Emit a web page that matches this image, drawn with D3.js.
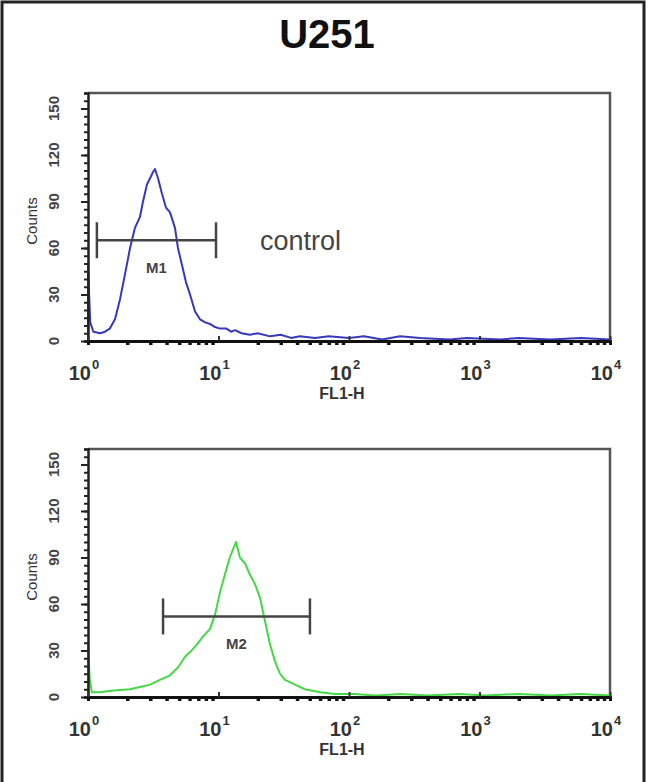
<!DOCTYPE html>
<html>
<head>
<meta charset="utf-8">
<script src="https://cdn.jsdelivr.net/npm/d3@7"></script>
<style>
  html, body { margin: 0; padding: 0; background: #fff; }
  svg { display: block; }
  text { font-family: "Liberation Sans", Arial, sans-serif; }
</style>
</head>
<body>
<svg id="chart" width="650" height="782"></svg>
<script>
// ---------- data ----------
const title = "U251";
const xTickExponents = [0, 1, 2, 3, 4];
const yTickValues = [0, 30, 60, 90, 120, 150];

// control histogram (FL1-H value, counts)
const controlFL1 = [1.0, 1.0, 1.02, 1.04, 1.1, 1.24, 1.35, 1.47, 1.61, 1.76, 1.92, 2.10, 2.29, 2.50, 2.64, 2.83, 2.99, 3.15, 3.26, 3.44, 3.69, 3.96, 4.25, 4.64, 4.89, 5.25, 5.63, 6.05, 6.61, 7.21, 7.9, 8.61, 9.4, 10.3, 11.5, 12.5, 13.4, 15, 17.4, 20, 24.8, 30, 36, 42, 55, 70, 100, 130, 180, 246, 350, 590, 800, 1440, 2000, 3470, 6000, 10000, 10000];
const controlCounts = [0, 50, 30, 12, 6, 5, 6, 8, 14, 27, 43, 60, 73, 80, 90, 101, 105, 109, 111, 105, 95, 86, 83, 73, 60, 49, 38, 30, 19, 14, 12, 11, 9, 8, 8, 6, 7, 5, 4, 5, 3, 4, 2, 3, 2, 3, 2, 3, 1, 3, 2, 1, 2, 1, 2, 1, 2, 1, 0];

// sample histogram
const sampleFL1 = [1.0, 1.0, 1.03, 1.07, 1.24, 1.5, 1.76, 2.1, 2.50, 2.99, 3.56, 4.25, 4.89, 5.54, 6.05, 6.84, 7.60, 8.61, 9.40, 10.3, 11.2, 12.2, 13.6, 14.6, 16.0, 17.4, 19.0, 20.8, 22.7, 24.8, 27.1, 29.6, 32.3, 38.6, 46.0, 60.0, 78.1, 110, 160, 250, 400, 700, 1100, 2000, 3500, 6000, 10000, 10000];
const sampleCounts = [0, 33, 12, 3, 3, 4, 4.5, 5, 6.5, 8, 11, 14, 19, 26, 29, 34, 39, 44, 53, 68, 79, 90, 100, 90, 86, 79, 73, 64, 49, 34, 23, 15, 11, 8, 5, 3, 2, 2, 1, 2, 1, 2, 1, 2, 1, 2, 1, 0];

// markers
const markerNames = ["M1", "M2"];
const markerStart = [1.17, 3.76];
const markerEnd = [9.57, 50.2];
const markerCount = [65, 52];

const panelLabels = ["control", ""];

// ---------- layout ----------
const svg = d3.select("#chart");
const W = 650, H = 782;
const plotLeft = 88, plotRight = 610;
const panels = [
  { top: 93, bottom: 341, fl: controlFL1, cnt: controlCounts, color: "#3838bb" },
  { top: 449, bottom: 697, fl: sampleFL1, cnt: sampleCounts, color: "#44d844" }
];

// outer frame (left, top, right)
svg.append("path")
  .attr("d", `M2,${H} L2,2 L644,2 L644,${H}`)
  .attr("fill", "none").attr("stroke", "#222").attr("stroke-width", 3);

svg.append("text")
  .attr("x", 327).attr("y", 48)
  .attr("text-anchor", "middle")
  .attr("font-size", 40).attr("font-weight", "bold").attr("fill", "#111")
  .text(title);

panels.forEach((p, i) => {
  const x = d3.scaleLog().domain([1, 10000]).range([plotLeft, plotRight]);
  const y = d3.scaleLinear().domain([0, 160]).range([p.bottom, p.top]);
  const g = svg.append("g");

  // box frame (top and right)
  g.append("path")
    .attr("d", `M${plotLeft},${p.top} L${plotRight},${p.top} L${plotRight},${p.bottom}`)
    .attr("fill", "none").attr("stroke", "#555").attr("stroke-width", 2.5);

  // histogram line
  const pts = p.fl.map((v, k) => [v, p.cnt[k]]);
  g.append("path")
    .datum(pts)
    .attr("d", d3.line().x(d => x(d[0])).y(d => y(d[1])))
    .attr("fill", "none").attr("stroke", p.color).attr("stroke-width", 2)
    .attr("stroke-linejoin", "round");

  // y axis
  const yMinor = d3.range(0, 161, 5);
  const yAxisMinor = d3.axisLeft(y).tickValues(yMinor).tickSize(4).tickFormat("");
  const ya = g.append("g").attr("transform", `translate(${plotLeft},0)`).call(yAxisMinor);
  ya.select(".domain").attr("stroke", "#222").attr("stroke-width", 2.5);
  ya.selectAll(".tick line").attr("stroke", "#222").attr("stroke-width", 2);
  const yAxisMajor = d3.axisLeft(y).tickValues(yTickValues).tickSize(7).tickFormat("");
  const yb = g.append("g").attr("transform", `translate(${plotLeft},0)`).call(yAxisMajor);
  yb.select(".domain").remove();
  yb.selectAll(".tick line").attr("stroke", "#222").attr("stroke-width", 2);

  yTickValues.forEach(v => {
    g.append("text")
      .attr("transform", `translate(${59},${y(v)}) rotate(-90)`)
      .attr("text-anchor", "middle")
      .attr("font-size", 15).attr("font-weight", "bold").attr("fill", "#444")
      .text(v);
  });

  g.append("text")
    .attr("transform", `translate(${37},${(p.top + p.bottom) / 2 + 4}) rotate(-90)`)
    .attr("text-anchor", "middle")
    .attr("font-size", 15).attr("fill", "#333")
    .text("Counts");

  // x axis
  const xMinorVals = [];
  for (let e = 0; e < 4; e++) for (let m = 2; m <= 9; m++) xMinorVals.push(m * Math.pow(10, e));
  const xAxisMinor = d3.axisBottom(x).tickValues(xMinorVals).tickSize(4).tickFormat("");
  const xa = g.append("g").attr("transform", `translate(0,${p.bottom})`).call(xAxisMinor);
  xa.select(".domain").attr("stroke", "#111").attr("stroke-width", 3);
  xa.selectAll(".tick line").attr("stroke", "#111").attr("stroke-width", 3.5);
  const xAxisMajor = d3.axisTop(x).tickValues(xTickExponents.map(e => Math.pow(10, e))).tickSize(5).tickFormat("");
  const xb = g.append("g").attr("transform", `translate(0,${p.bottom})`).call(xAxisMajor);
  xb.select(".domain").remove();
  xb.selectAll(".tick line").attr("stroke", "#333").attr("stroke-width", 2);

  xTickExponents.forEach(e => {
    const t = g.append("text")
      .attr("x", x(Math.pow(10, e)) - 4).attr("y", p.bottom + 39)
      .attr("text-anchor", "middle")
      .attr("font-size", 20).attr("font-weight", "bold").attr("fill", "#333");
    t.append("tspan").text("10");
    t.append("tspan").attr("dy", -11).attr("dx", 1).attr("font-size", 13).text(e);
  });

  g.append("text")
    .attr("x", 342).attr("y", p.bottom + 58)
    .attr("text-anchor", "middle")
    .attr("font-size", 16).attr("font-weight", "bold").attr("fill", "#333")
    .text("FL1-H");

  // marker
  const my = y(markerCount[i]);
  const mx1 = x(markerStart[i]), mx2 = x(markerEnd[i]);
  g.append("line").attr("x1", mx1).attr("x2", mx2).attr("y1", my).attr("y2", my)
    .attr("stroke", "#444").attr("stroke-width", 2.5);
  [mx1, mx2].forEach(mx => {
    g.append("line").attr("x1", mx).attr("x2", mx).attr("y1", my - 18).attr("y2", my + 18)
      .attr("stroke", "#444").attr("stroke-width", 2.5);
  });
  g.append("text")
    .attr("x", x(Math.sqrt(markerStart[i] * markerEnd[i])))
    .attr("y", my + 33)
    .attr("text-anchor", "middle")
    .attr("font-size", 15).attr("font-weight", "bold").attr("fill", "#444")
    .text(markerNames[i]);

  if (panelLabels[i]) {
    g.append("text")
      .attr("x", 260).attr("y", my + 10)
      .attr("font-size", 27).attr("fill", "#444")
      .text(panelLabels[i]);
  }
});
</script>
</body>
</html>
